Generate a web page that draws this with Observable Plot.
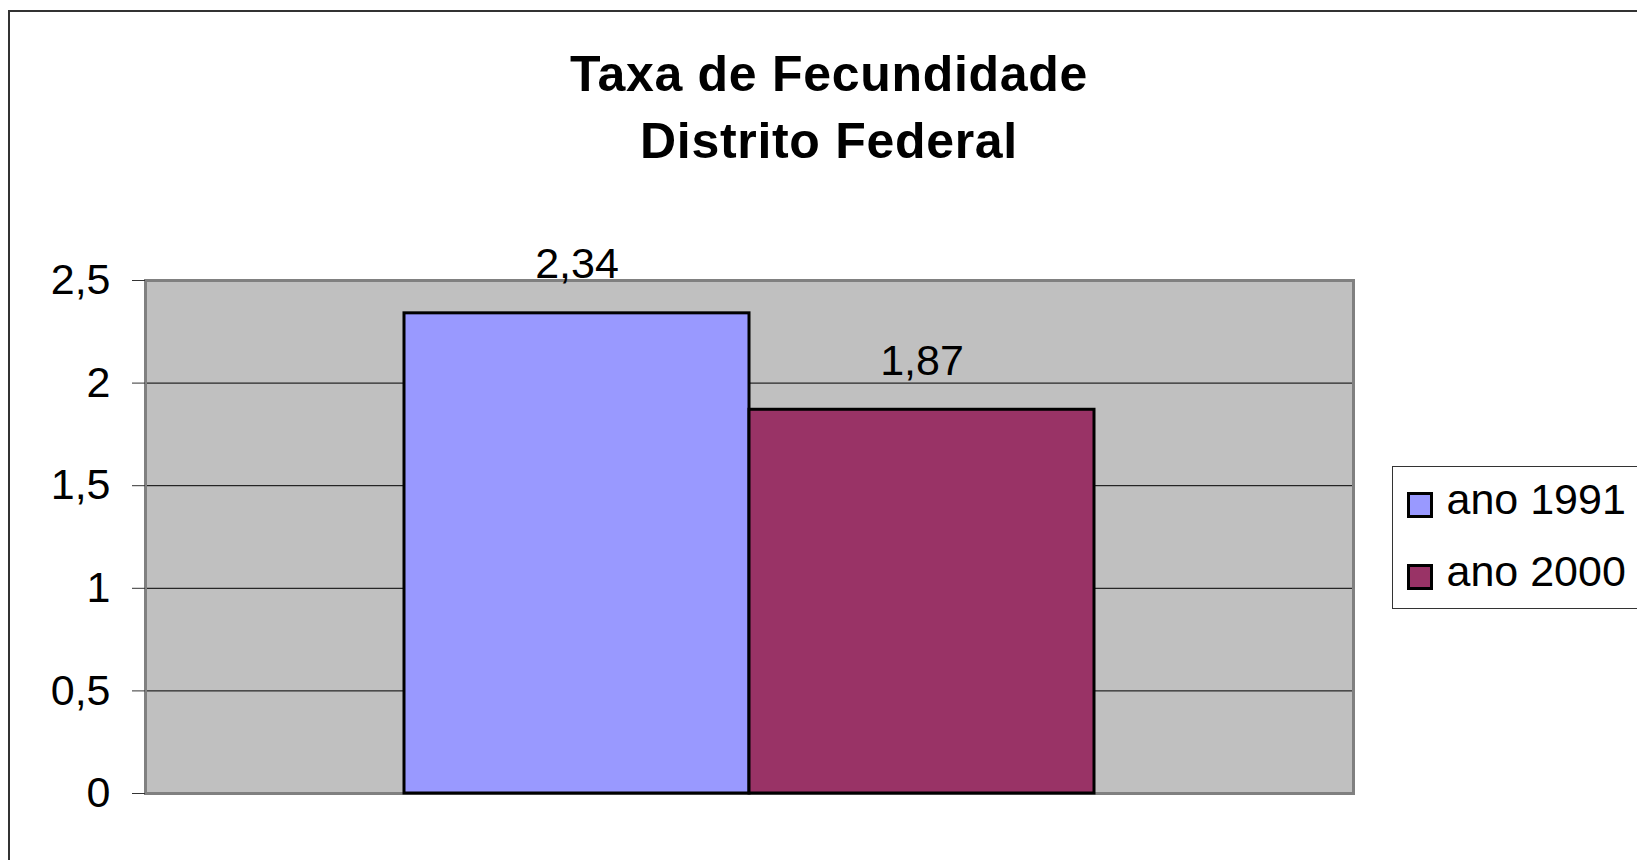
<!DOCTYPE html>
<html>
<head>
<meta charset="utf-8">
<script src="https://cdn.jsdelivr.net/npm/d3@7"></script>
<script src="https://cdn.jsdelivr.net/npm/@observablehq/plot@0.6"></script>
<style>
  html, body { margin: 0; padding: 0; background: #fff; overflow: hidden; }
  #wrap { position: relative; width: 1637px; height: 860px; overflow: hidden; font-family: "Liberation Sans", Arial, sans-serif; }
  #border { position: absolute; left: 8px; top: 10px; width: 1800px; height: 1000px; border: 2px solid #333; box-sizing: border-box; }
  #title { position: absolute; left: 0; top: 41px; width: 1658px; text-align: center; font-weight: bold; font-size: 50px; line-height: 67px; color: #000; letter-spacing: 0.7px; }
  #chart { position: absolute; left: 0; top: 0; }
  #legend { position: absolute; left: 1392px; top: 466px; width: 320px; height: 143px; border: 1.5px solid #333; box-sizing: border-box; background: #fff; }
  .sw { position: absolute; width: 26px; height: 26px; border: 3px solid #000; box-sizing: border-box; }
  .lab { position: absolute; font-size: 43px; line-height: 43px; white-space: nowrap; color: #000; }
</style>
</head>
<body>
<div id="wrap">
  <div id="border"></div>
  <div id="chart"></div>
  <div id="title"></div>
  <div id="legend"></div>
</div>
<script>
const titleLines = ["Taxa de Fecundidade", "Distrito Federal"];
const series = ["ano 1991", "ano 2000"];
const values = [2.34, 1.87];
const colors = ["#9999FF", "#993366"];
const yTicks = [0, 0.5, 1, 1.5, 2, 2.5];
const gridTicks = [0.5, 1, 1.5, 2];

const data = series.map((s, i) => ({series: s, value: values[i]}));
const fmt = d => String(d).replace(".", ",");

document.getElementById("title").innerHTML = titleLines.join("<br>");

const plot = Plot.plot({
  width: 1637,
  height: 860,
  marginLeft: 145,
  marginRight: 284,
  marginTop: 280,
  marginBottom: 67,
  style: {fontFamily: "'Liberation Sans', Arial, sans-serif", background: "transparent", overflow: "visible"},
  x: {domain: series, paddingInner: 0, paddingOuter: 0.746, axis: null},
  y: {domain: [0, 2.5]},
  color: {domain: series, range: colors},
  marks: [
    Plot.frame({fill: "#C0C0C0", stroke: null}),
    Plot.ruleY(gridTicks, {stroke: "#000", strokeWidth: 1}),
    Plot.frame({stroke: "#808080", strokeWidth: 3}),
    Plot.barY(data, {x: "series", y: "value", fill: "series", stroke: "#000", strokeWidth: 3}),
    Plot.text(data, {x: "series", y: "value", text: d => fmt(d.value), lineAnchor: "bottom", dy: -35, fontSize: 43, fill: "#000"}),
    Plot.axisY({ticks: yTicks, tickFormat: fmt, tickSize: 13, tickPadding: 22, fontSize: 43, label: null, stroke: "#333", color: "#000"})
  ]
});
document.getElementById("chart").appendChild(plot);

const legend = document.getElementById("legend");
series.forEach((s, i) => {
  const sw = document.createElement("div");
  sw.className = "sw";
  sw.style.background = colors[i];
  sw.style.left = (1407 - 1392 - 1.5) + "px";
  sw.style.top = (492 + i * 72 - 466 - 1.5) + "px";
  legend.appendChild(sw);
  const lab = document.createElement("div");
  lab.className = "lab";
  lab.textContent = s;
  lab.style.left = (1447 - 1392 - 1.5) + "px";
  lab.style.top = (515 + i * 72 - 36.4 - 466 - 1.5) + "px";
  legend.appendChild(lab);
});
</script>
</body>
</html>
